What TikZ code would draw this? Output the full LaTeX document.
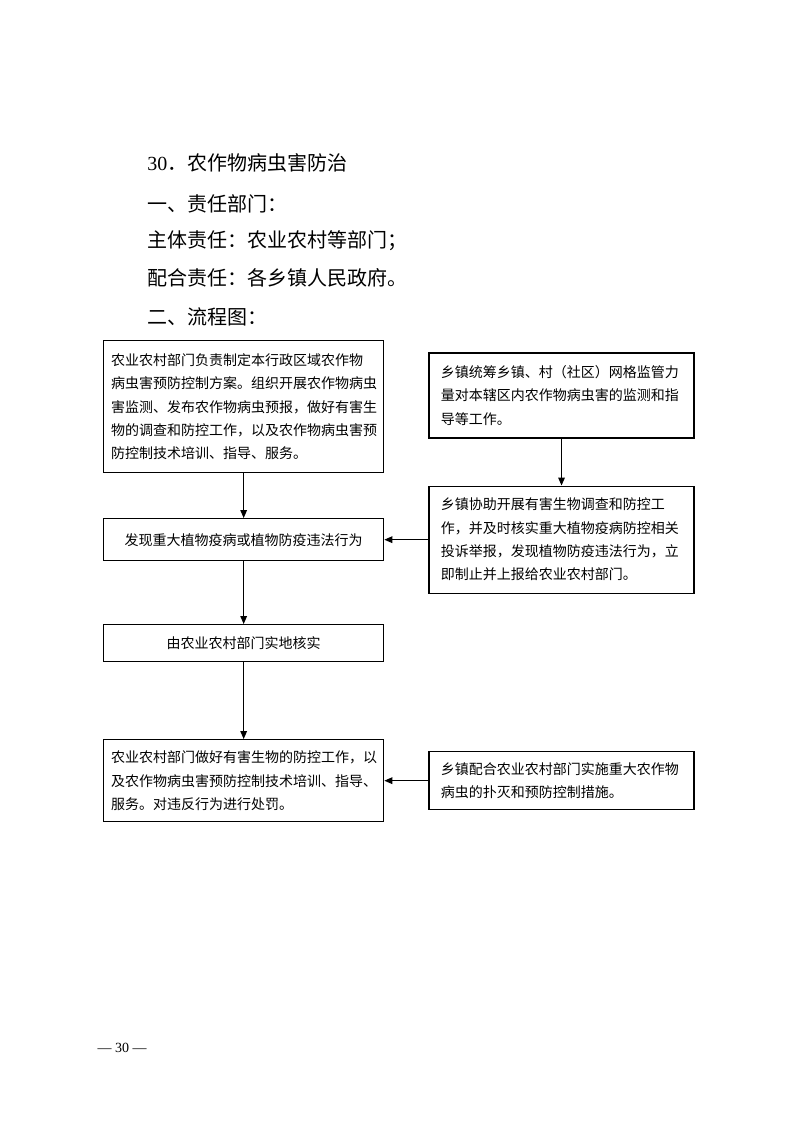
\documentclass[tikz,border=0pt]{standalone}
\usepackage{fontspec}
\setmainfont{Noto Sans CJK SC}
\newfontfamily\numfont{Liberation Serif}
\usepackage{tikz}
\usetikzlibrary{arrows.meta,positioning}

\begin{document}
\begin{tikzpicture}[
  x=0.75pt, y=-0.75pt,
  heading/.style={anchor=west, inner sep=0pt, font=\fontsize{15}{18}\selectfont},
  leftbox/.style={draw, line width=1pt, minimum width=210pt, text width=199pt, inner xsep=5.5pt, align=left, font=\fontsize{10.5}{17.5}\selectfont},
  rightbox/.style={draw, line width=1pt, minimum width=198.75pt, text width=181pt, inner xsep=8.9pt, align=left, font=\fontsize{10.5}{17.5}\selectfont},
  midbox/.style={draw, line width=1pt, minimum width=210pt, text width=199pt, inner xsep=5.5pt, align=center, font=\fontsize{10.5}{17.5}\selectfont},
  arr/.style={-{Triangle[length=6pt,width=5pt]}, line width=0.75pt},
]
  \useasboundingbox (0,0) rectangle (794,1122);

  % Heading lines
  \node[heading] (title) at (147,163) {{\numfont 30}．农作物病虫害防治};
  \node[heading] (dept) at (147,204) {一、责任部门：};
  \node[heading] (main) at (147,241) {主体责任：农业农村等部门；};
  \node[heading] (assist) at (147,278) {配合责任：各乡镇人民政府。};
  \node[heading] (chart) at (147,317) {二、流程图：};

  % Left column
  \node[leftbox, minimum height=99pt, anchor=north west] (plan) at (103,340)
    {农业农村部门负责制定本行政区域农作物\\病虫害预防控制方案。组织开展农作物病虫\\害监测、发布农作物病虫预报，做好有害生\\物的调查和防控工作，以及农作物病虫害预\\防控制技术培训、指导、服务。};
  \node[midbox, minimum height=31.5pt, below=33.5pt of plan] (found) {发现重大植物疫病或植物防疫违法行为};
  \node[midbox, minimum height=27.75pt, below=47pt of found] (verify) {由农业农村部门实地核实};
  \node[leftbox, minimum height=61.5pt, below=57.5pt of verify] (control)
    {农业农村部门做好有害生物的防控工作，以\\及农作物病虫害预防控制技术培训、指导、\\服务。对违反行为进行处罚。};

  % Right column
  \node[rightbox, minimum height=80.25pt, right=33pt of found] (assistbox)
    {乡镇协助开展有害生物调查和防控工\\作，并及时核实重大植物疫病防控相关\\投诉举报，发现植物防疫违法行为，立\\即制止并上报给农业农村部门。};
  \node[rightbox, minimum height=63.75pt, above=35.25pt of assistbox] (grid)
    {乡镇统筹乡镇、村（社区）网格监管力\\量对本辖区内农作物病虫害的监测和指\\导等工作。};
  \node[rightbox, minimum height=43.5pt, right=33pt of control] (town)
    {乡镇配合农业农村部门实施重大农作物\\病虫的扑灭和预防控制措施。};

  % Page number
  \node[font=\numfont\fontsize{10.5}{12}\selectfont] (page) at (122,1048) {— 30 —};

  % Arrows
  \draw[arr] (plan) -- (found);
  \draw[arr] (found) -- (verify);
  \draw[arr] (verify) -- (control);
  \draw[arr] (grid) -- (assistbox);
  \draw[arr] (assistbox) -- (found);
  \draw[arr] (town) -- (control);
\end{tikzpicture}
\end{document}
